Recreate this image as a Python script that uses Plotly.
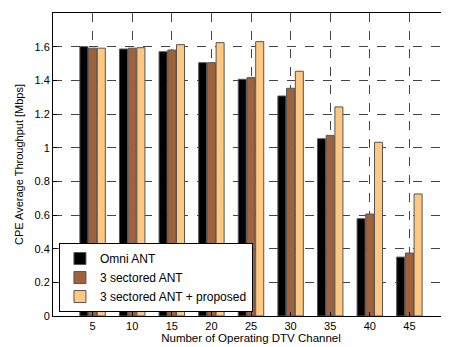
import plotly.graph_objects as go

channels = [5, 10, 15, 20, 25, 30, 35, 40, 45]
omni = [1.600, 1.586, 1.570, 1.505, 1.406, 1.307, 1.053, 0.578, 0.350]
sectored = [1.591, 1.591, 1.580, 1.505, 1.416, 1.353, 1.073, 0.606, 0.374]
proposed = [1.591, 1.594, 1.612, 1.624, 1.630, 1.454, 1.242, 1.032, 0.725]
names = ["Omni ANT", "3 sectored ANT", "3 sectored ANT + proposed"]
colors = ["#000000", "#A0623C", "#FFC880"]

fig = go.Figure()
for name, vals, col in zip(names, [omni, sectored, proposed], colors):
    fig.add_trace(go.Bar(
        x=channels, y=vals, name=name,
        marker=dict(color=col, line=dict(color="#555555", width=1)),
    ))

font = "Liberation Sans, Arial, sans-serif"
fig.update_layout(
    width=441, height=339,
    margin=dict(l=45, r=0, t=5, b=31),
    paper_bgcolor="white", plot_bgcolor="white",
    barmode="group", bargap=0.34, bargroupgap=0.08,
    font=dict(family=font, size=11, color="#000"),
    showlegend=True,
    legend=dict(
        x=0.015, y=0.013, xanchor="left", yanchor="bottom",
        bgcolor="white", bordercolor="#000", borderwidth=1,
        font=dict(size=12), itemwidth=30, tracegroupgap=0,
        traceorder="normal",
    ),
    xaxis=dict(
        range=[0, 50], tickvals=channels, ticktext=[str(c) for c in channels],
        showgrid=True, gridcolor="#444", griddash="dash", gridwidth=1,
        showline=True, linecolor="#000", linewidth=1, mirror=True,
        ticks="inside", ticklen=4, tickcolor="#000",
        title=dict(text="Number of Operating DTV Channel", standoff=1, font=dict(size=11.5)),
        zeroline=False,
    ),
    yaxis=dict(
        range=[0, 1.8],
        tickvals=[0, 0.2, 0.4, 0.6, 0.8, 1, 1.2, 1.4, 1.6, 1.8],
        ticktext=["0", "0.2", "0.4", "0.6", "0.8", "1", "1.2", "1.4", "1.6", "1.8"],
        showgrid=True, gridcolor="#444", griddash="dash", gridwidth=1,
        showline=True, linecolor="#000", linewidth=1, mirror=True,
        ticks="inside", ticklen=4, tickcolor="#000",
        title=dict(text="CPE Average Throughput [Mbps]", standoff=8, font=dict(size=11)),
        zeroline=False,
    ),
)
fig.write_html("out.html")
